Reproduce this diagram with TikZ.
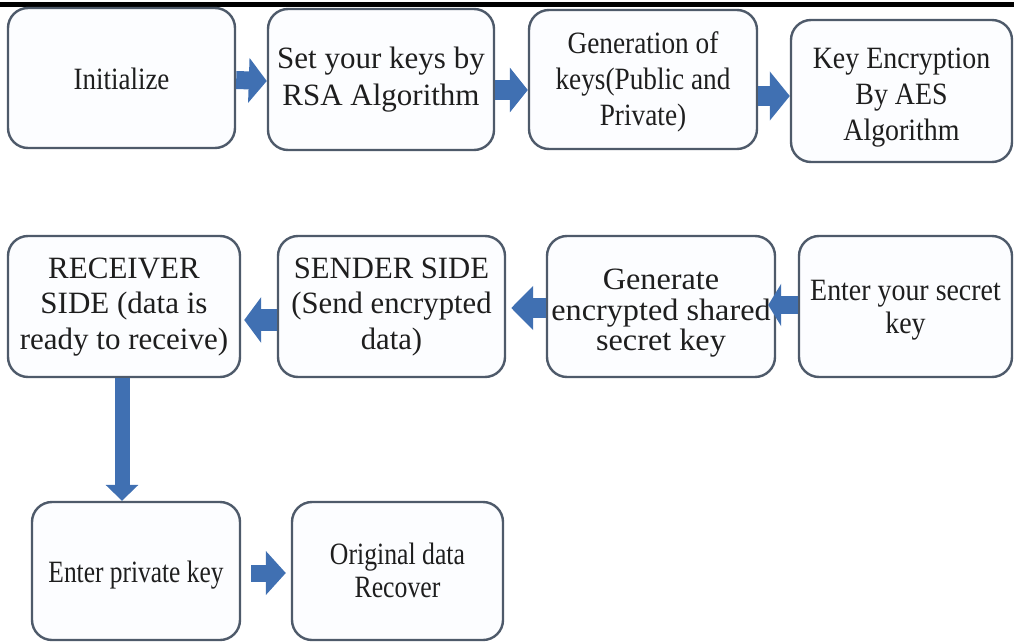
\documentclass[tikz,border=0pt]{standalone}
\usepackage{fontspec}
\setmainfont{Liberation Serif}
\usetikzlibrary{arrows.meta,calc}
\definecolor{arrowblue}{RGB}{64,112,178}
\definecolor{boxline}{RGB}{78,90,106}
\definecolor{boxfill}{RGB}{252,253,255}
\definecolor{inktext}{RGB}{30,30,30}
% font size / line pitch
\newcommand{\fsz}[2]{\fontsize{#1}{#2}\selectfont}
% centred lines, squeezed or widened horizontally by #1
\newcommand{\sq}[2]{\scalebox{#1}[1]{\begin{tabular}{@{}c@{}}#2\end{tabular}}}
\tikzset{
  stepbox/.style={draw=boxline, line width=2.4pt, fill=boxfill, rounded corners=20pt,
    text=inktext, inner sep=1pt, font=\fsz{31}{36}},
  blockarrow/.style n args={3}{draw=arrowblue, line width=#1,
    -{Triangle[width=#2,length=#3]}}
}
\begin{document}
\begin{tikzpicture}[x=1pt,y=-1pt]
\useasboundingbox (0,0) rectangle (1014,642);
% rule along the top edge
\fill[black] (0,2) rectangle (1014,7.5);

% first row: key set-up
\node[stepbox, minimum width=227pt, minimum height=140pt] (init)   at (121.5,78)
  {\sq{0.87}{\rule{0pt}{33pt}Initialize}};
\node[stepbox, font=\fsz{31}{36.5}, minimum width=226pt, minimum height=141pt] (setkey) at (381,79.5)
  {\sq{1.0}{Set your keys by\\RSA Algorithm}};
\node[stepbox, minimum width=228pt, minimum height=139pt] (genkey) at (643,79.5)
  {\sq{0.88}{\rule{0pt}{30pt}Generation of\\keys(Public and\\Private)}};
\node[stepbox, minimum width=221pt, minimum height=142pt] (aesenc) at (901.5,91)
  {\sq{0.9}{\rule{0pt}{38pt}Key Encryption\\By AES\\Algorithm}};

% second row: sending
\node[stepbox, font=\fsz{31}{35.5}, minimum width=232pt, minimum height=141pt] (recv)   at (124,306.5)
  {\sq{1.0}{RECEIVER\\SIDE (data is\\ready to receive)}};
\node[stepbox, font=\fsz{31}{35.5}, minimum width=227pt, minimum height=141pt] (send)   at (391.5,306.5)
  {\sq{0.99}{SENDER SIDE\\(Send encrypted\\data)}};
\node[stepbox, font=\fsz{31}{29}, minimum width=228pt, minimum height=141pt] (shared) at (661,306.5)
  {\sq{1.04}{\rule{0pt}{36pt}Generate\\encrypted shared\\secret key}};
\node[stepbox, font=\fsz{31}{33}, minimum width=213pt, minimum height=141pt] (secret) at (905.5,306.5)
  {\sq{0.9}{\rule{0pt}{30pt}Enter your secret\\key}};

% third row: recovery
\node[stepbox, minimum width=208pt, minimum height=138pt] (priv)   at (136,571)
  {\sq{0.82}{\rule{0pt}{33pt}Enter private key}};
\node[stepbox, font=\fsz{31}{33}, minimum width=211pt, minimum height=138pt] (orig)   at (397.5,571)
  {\sq{0.83}{\rule{0pt}{30pt}Original data\\Recover}};

% block arrows between the steps
\draw[blockarrow={18pt}{44pt}{18pt}] ([yshift=-2pt]init.east)    -- ([yshift=-1.5pt]setkey.west);
\draw[blockarrow={20pt}{44pt}{18pt}] ([yshift=-10.5pt]setkey.east) -- ([yshift=-10.5pt]genkey.west);
\draw[blockarrow={20pt}{48pt}{20pt}] ([yshift=-16.5pt]genkey.east) -- ([yshift=-5pt]aesenc.west);

\draw[blockarrow={22pt}{45pt}{17pt}] ([yshift=-13.5pt]send.west)   -- ([xshift=3pt,yshift=-13.5pt]recv.east);
\draw[blockarrow={20pt}{43pt}{22pt}] ([yshift=-1.5pt]shared.west)  -- ([xshift=5pt,yshift=-1.5pt]send.east);
\draw[blockarrow={18pt}{42pt}{13pt}] ([yshift=1.5pt]secret.west)   -- ([xshift=-8pt,yshift=1.5pt]shared.east);

\draw[blockarrow={15pt}{32pt}{16pt}] ([xshift=-2pt]recv.south)     -- ([xshift=-14pt]priv.north);
\draw[blockarrow={17pt}{43pt}{20pt}] ([xshift=10pt,yshift=-2pt]priv.east) -- ([xshift=-5pt,yshift=-2pt]orig.west);
\end{tikzpicture}
\end{document}
